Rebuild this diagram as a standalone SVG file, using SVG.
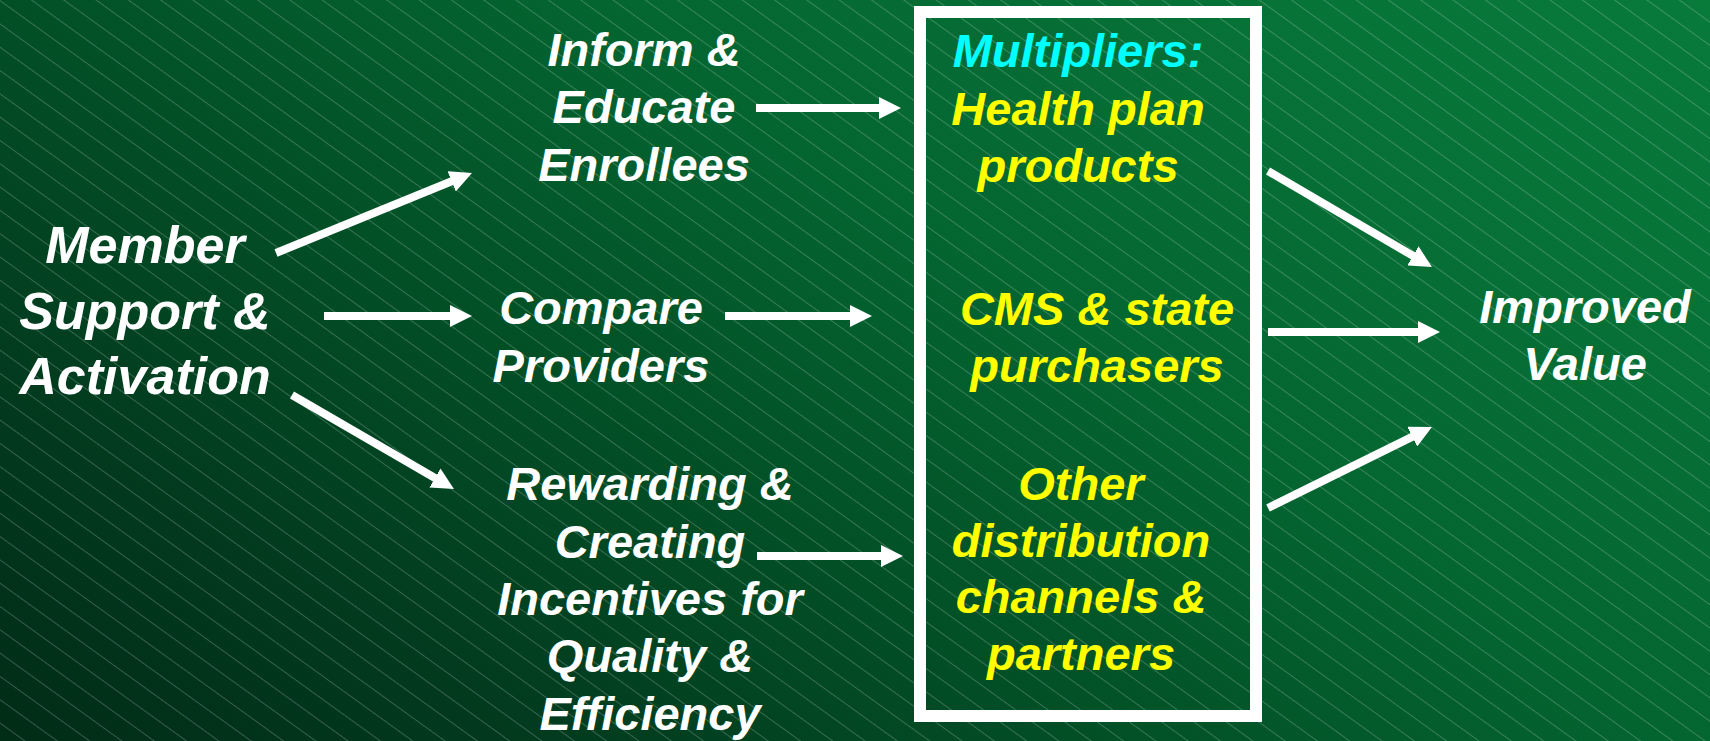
<svg xmlns="http://www.w3.org/2000/svg" width="1710" height="741" viewBox="0 0 1710 741">
  <defs>
    <!-- dark-to-light green backdrop, darkest at the lower left -->
    <linearGradient id="bgGrad" gradientUnits="userSpaceOnUse" x1="0" y1="741" x2="881" y2="-564">
      <stop offset="0" stop-color="#012c16"/>
      <stop offset="0.19" stop-color="#023a1e"/>
      <stop offset="0.39" stop-color="#024f26"/>
      <stop offset="0.6" stop-color="#046531"/>
      <stop offset="0.84" stop-color="#077337"/>
      <stop offset="1" stop-color="#087a3a"/>
    </linearGradient>
    <!-- fine diagonal pinstripes -->
    <pattern id="stripes" patternUnits="userSpaceOnUse" width="200" height="18.9" patternTransform="rotate(35.8)">
      <line x1="0" y1="0.5" x2="200" y2="0.5" stroke="#ffffff" stroke-opacity="0.21" stroke-width="1"/>
    </pattern>
    <marker id="head" markerUnits="userSpaceOnUse" markerWidth="22" markerHeight="22" refX="10" refY="11" orient="auto">
      <path d="M0,0 L22,11 L0,22 Z" fill="#ffffff"/>
    </marker>
    <style>
      text { font-family: "Liberation Sans", Arial, sans-serif; font-weight: bold; font-style: italic; font-size: 47px; text-anchor: middle; }
      .w { fill: #ffffff; }
      .y { fill: #ffff00; }
      .c { fill: #00ffff; }
      .big { font-size: 52px; }
      .arrow { stroke: #ffffff; stroke-width: 8; fill: none; marker-end: url(#head); }
    </style>
  </defs>

  <!-- background -->
  <rect x="0" y="0" width="1710" height="741" fill="url(#bgGrad)"/>
  <rect x="0" y="0" width="1710" height="741" fill="url(#stripes)"/>

  <!-- multipliers frame -->
  <g id="multipliers-frame">
    <rect x="920" y="12" width="336" height="704" fill="none" stroke="#ffffff" stroke-width="12"/>
  </g>

  <g id="member-support">
    <text class="w big" x="145" y="263">Member</text>
    <text class="w big" x="145" y="329">Support &amp;</text>
    <text class="w big" x="145" y="394">Activation</text>
  </g>

  <g id="inform-educate">
    <text class="w" x="644" y="66">Inform &amp;</text>
    <text class="w" x="644" y="123">Educate</text>
    <text class="w" x="644" y="181">Enrollees</text>
  </g>

  <g id="compare-providers">
    <text class="w" x="601" y="324">Compare</text>
    <text class="w" x="601" y="382">Providers</text>
  </g>

  <g id="rewarding-incentives">
    <text class="w" x="650" y="500">Rewarding &amp;</text>
    <text class="w" x="650" y="558">Creating</text>
    <text class="w" x="650" y="615">Incentives for</text>
    <text class="w" x="650" y="672">Quality &amp;</text>
    <text class="w" x="650" y="730">Efficiency</text>
  </g>

  <g id="health-plan-products">
    <text class="c" x="1078" y="67">Multipliers:</text>
    <text class="y" x="1078" y="125">Health plan</text>
    <text class="y" x="1078" y="182">products</text>
  </g>

  <g id="cms-state-purchasers">
    <text class="y" x="1097" y="325">CMS &amp; state</text>
    <text class="y" x="1097" y="382">purchasers</text>
  </g>

  <g id="other-channels">
    <text class="y" x="1081" y="500">Other</text>
    <text class="y" x="1081" y="557">distribution</text>
    <text class="y" x="1081" y="613">channels &amp;</text>
    <text class="y" x="1081" y="670">partners</text>
  </g>

  <g id="improved-value">
    <text class="w" x="1585" y="323">Improved</text>
    <text class="w" x="1585" y="380">Value</text>
  </g>

  <!-- connectors -->
  <g id="connectors">
    <line class="arrow" x1="276" y1="253" x2="460.9" y2="177.5"/>
    <line class="arrow" x1="324" y1="316" x2="460" y2="316"/>
    <line class="arrow" x1="292" y1="395" x2="443.6" y2="483"/>
    <line class="arrow" x1="756" y1="108" x2="889" y2="108"/>
    <line class="arrow" x1="725" y1="316" x2="860" y2="316"/>
    <line class="arrow" x1="757" y1="556" x2="891" y2="556"/>
    <line class="arrow" x1="1268" y1="171" x2="1421.6" y2="260.9"/>
    <line class="arrow" x1="1268" y1="332" x2="1428" y2="332"/>
    <line class="arrow" x1="1268" y1="508" x2="1421.2" y2="432.3"/>
  </g>
</svg>
